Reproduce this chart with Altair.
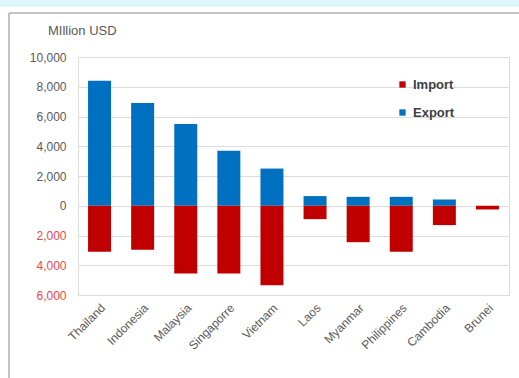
import altair as alt
import pandas as pd

countries = ["Thailand", "Indonesia", "Malaysia", "Singaporre", "Vietnam",
             "Laos", "Myanmar", "Philippines", "Cambodia", "Brunei"]
export_vals = [8400, 6900, 5500, 3700, 2500, 650, 600, 600, 420, 0]
import_vals = [-3100, -2950, -4550, -4550, -5350, -900, -2450, -3100, -1300, -250]
series = ["Import", "Export"]
colors = ["#c00000", "#0070c0"]
y_ticks = [-6000, -4000, -2000, 0, 2000, 4000, 6000, 8000, 10000]

rows = []
for c, e, i in zip(countries, export_vals, import_vals):
    rows.append({"country": c, "series": "Export", "value": e})
    rows.append({"country": c, "series": "Import", "value": i})
df = pd.DataFrame(rows)

FONT = "Liberation Sans"
W, H = 431, 238

bars = alt.Chart(df).mark_bar(size=23).encode(
    x=alt.X("country:N", sort=countries, title=None,
            scale=alt.Scale(paddingInner=0.47, paddingOuter=0.235),
            axis=alt.Axis(labelAngle=-45, labelAlign="right", labelBaseline="top",
                          labelFont=FONT, labelFontSize=12, labelColor="#595959",
                          ticks=False, domain=False, labelPadding=7)),
    y=alt.Y("value:Q", stack=None, title=None,
            scale=alt.Scale(domain=[-6000, 10000], nice=False),
            axis=alt.Axis(values=y_ticks,
                          labelExpr="format(abs(datum.value), ',')",
                          labelColor={"condition": {"test": "datum.value < 0", "value": "#e8474a"},
                                      "value": "#595959"},
                          labelFont=FONT, labelFontSize=12, ticks=False, domain=False,
                          labelPadding=12, gridColor="#dcdcdc", gridWidth=1)),
    color=alt.Color("series:N", scale=alt.Scale(domain=series, range=colors),
                    legend=alt.Legend(title=None, orient="none", legendX=318, legendY=21,
                                      symbolType="square", symbolSize=40,
                                      symbolStrokeWidth=0,
                                      labelFont=FONT, labelFontSize=13,
                                      labelFontWeight="bold", labelColor="#404040",
                                      rowPadding=14, labelOffset=4)),
)

title_df = pd.DataFrame({"t": ["MIllion USD"]})
title = alt.Chart(title_df).mark_text(align="left", baseline="middle", font=FONT,
                                      fontSize=13, color="#595959").encode(
    text="t:N", x=alt.value(-30), y=alt.value(-26))

left_line = alt.Chart(title_df).mark_rule(color="#b0b0b0", strokeWidth=1.5).encode(
    x=alt.value(-69), y=alt.value(-44), y2=alt.value(400))
top_line = alt.Chart(title_df).mark_rule(color="#b0b0b0", strokeWidth=1.5).encode(
    x=alt.value(-69), x2=alt.value(500), y=alt.value(-44))

strip = alt.Chart(title_df).mark_rect(fill="#dcf6fb", stroke=None).encode(
    x=alt.value(-80), x2=alt.value(500), y=alt.value(-60), y2=alt.value(-50))

cover = alt.Chart(title_df).mark_rect(fill="white", stroke=None).encode(
    x=alt.value(434), x2=alt.value(600), y=alt.value(-43), y2=alt.value(600))

chart = alt.layer(strip, left_line, top_line, bars, cover, title).properties(
    width=W, height=H,
    autosize=alt.AutoSizeParams(type="none"),
    padding={"left": 78, "top": 57, "right": 10, "bottom": 83},
).configure_view(stroke="#8c8c8c", strokeWidth=1.5).configure(background="white")

chart.save("out.html", embed_options={"renderer": "svg", "actions": False})
